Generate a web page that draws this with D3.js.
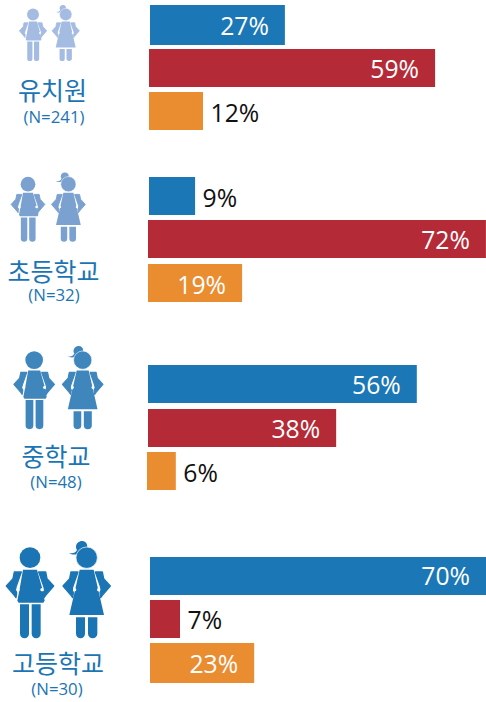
<!DOCTYPE html>
<html><head><meta charset="utf-8">
<script src="https://cdnjs.cloudflare.com/ajax/libs/d3/7.8.5/d3.min.js"></script>
<style>html,body{margin:0;padding:0;background:#fff}svg{display:block}</style>
</head><body><svg id="c" width="486" height="702"></svg>
<script>
// Data
const groups = ["유치원", "초등학교", "중학교", "고등학교"];
const sampleLabels = ["(N=241)", "(N=32)", "(N=48)", "(N=30)"];
const seriesNames = ["blue", "red", "orange"];
const printedBlue = [27, 9, 56, 70];
const printedRed = [59, 72, 38, 7];
const printedOrange = [12, 19, 6, 23];
// Bar lengths as actually drawn (percent units), which differ slightly from the printed figures
const drawnBlue = [28.1, 9.6, 56, 70];
const drawnRed = [59.6, 70.4, 39.2, 6.25];
const drawnOrange = [11.25, 19.6, 6, 21.7];

// Layout and style, kept apart from the data
const barColors = ["#1b77b6", "#b42a37", "#ea8c30"];
const iconColors = ["#a4bce2", "#7ba1d0", "#3f86bd", "#1b75b5"];
const labelColor = "#1b75b5";
const barLeft = [[150,149,149],[149,148,148],[148,148,147],[150,150,150]];
const barTop = [[5,49,92],[177,220,264],[365,409,452],[557,600,643]];
const barBottom = [[45,87,130],[215,258,302],[403,447,490],[595,638,683]];
const baseline = [[35,78,122],[207,249,294],[394,438,482],[585,629,673]];
const nameY = [[52.5,100],[53.5,281],[56,466],[58,673]];
const sampleY = [[54,123],[54,301],[56,488],[57,695]];
const iconT = [[15.7,4.3,.577],[6.6,171.6,.713],[8.5,345,.856],[0,540,1]];

const latin = "'Open Sans', sans-serif";
const korean = "'Noto Sans CJK KR', sans-serif";
const x = d3.scaleLinear().domain([0, 100]).range([0, 480]);
const svg = d3.select("#c");

const printed = [printedBlue, printedRed, printedOrange];
const drawn = [drawnBlue, drawnRed, drawnOrange];

const rows = groups.flatMap((g, gi) => seriesNames.map((s, si) => ({
  g: gi, s: si, value: printed[si][gi], len: drawn[si][gi]
})));

const bars = svg.append("g").selectAll("g").data(rows).join("g");
bars.append("rect")
  .attr("x", d => barLeft[d.g][d.s])
  .attr("y", d => barTop[d.g][d.s])
  .attr("width", d => x(d.len))
  .attr("height", d => barBottom[d.g][d.s] - barTop[d.g][d.s])
  .attr("fill", d => barColors[d.s]);
bars.append("text")
  .attr("x", d => {
    const end = barLeft[d.g][d.s] + x(d.len);
    return d.value > 12 ? end - 16 : end + 7.5;
  })
  .attr("y", d => baseline[d.g][d.s])
  .attr("text-anchor", d => d.value > 12 ? "end" : "start")
  .attr("fill", d => d.value > 12 ? "#fff" : "#111")
  .attr("font-family", latin)
  .attr("font-size", 25.5)
  .text(d => d.value + "%")
  .each(function () {
    const n = this.getComputedTextLength() * 0.97;
    d3.select(this).attr("textLength", n).attr("lengthAdjust", "spacingAndGlyphs");
  });

// Pictogram parts, in local icon units
const armPath = "M43,96 L64,96 L48,141 Q45,150 50,158 L48,173 L43,166 L19,138 L39,116 Z";
const boyBody = "M69,89 L111,89 L127,146 L134,182 L130,188 L56,188 L52,182 L59,146 Z";
const girlBody = "M239,89 L281,89 L312,225 L208,225 Z";
const girlHair = "M231,30 C225,22 228,8 241,4 C252,1 262,8 262,20 L240,35 C234,44 218,48 207,38 C215,42 226,40 231,30 Z";

function leg(g, x0, x1, y0, y1) {
  const r = (x1 - x0) / 2, p = d3.path();
  p.moveTo(x0, y0); p.lineTo(x1, y0); p.lineTo(x1, y1 - r);
  p.arc(x0 + r, y1 - r, r, 0, Math.PI); p.closePath();
  g.append("path").attr("d", p.toString());
}
function arms(g, cx, color) {
  [-1, 1].forEach(k => {
    const a = g.append("g").attr("transform", `translate(${cx},0) scale(${k},1) translate(-90,0)`);
    a.append("path").attr("d", armPath)
      .attr("stroke", color).attr("stroke-width", 4).attr("stroke-linejoin", "round");
    a.append("circle").attr("cx", 54).attr("cy", 149).attr("r", 5).attr("fill", "#fff");
  });
}
const icons = svg.append("g").selectAll("g").data(iconT).join("g")
  .attr("transform", d => `translate(${d[0]},${d[1]}) scale(${d[2] / 3})`)
  .attr("fill", (d, i) => iconColors[i]);
icons.each(function (d, i) {
  const g = d3.select(this), color = iconColors[i];
  g.append("circle").attr("cx", 90).attr("cy", 53).attr("r", 31);
  g.append("path").attr("d", boyBody);
  arms(g, 90, color);
  leg(g, 60, 87, 193, 295);
  leg(g, 95, 122, 193, 295);
  g.append("path").attr("d", girlHair);
  g.append("circle").attr("cx", 260).attr("cy", 53).attr("r", 32)
    .attr("stroke", "#fff").attr("stroke-width", 2);
  g.append("path").attr("d", girlBody);
  arms(g, 260, color);
  leg(g, 228, 255, 232, 295);
  leg(g, 264, 292, 232, 295);
});

svg.append("g").selectAll("text").data(groups).join("text")
  .attr("x", (d, i) => nameY[i][0]).attr("y", (d, i) => nameY[i][1])
  .attr("text-anchor", "middle").attr("fill", labelColor)
  .attr("font-family", korean).attr("font-size", 25).text(d => d);
svg.append("g").selectAll("text").data(sampleLabels).join("text")
  .attr("x", (d, i) => sampleY[i][0]).attr("y", (d, i) => sampleY[i][1])
  .attr("text-anchor", "middle").attr("fill", labelColor)
  .attr("font-family", latin).attr("font-size", 16.8).text(d => d);
</script></body></html>
